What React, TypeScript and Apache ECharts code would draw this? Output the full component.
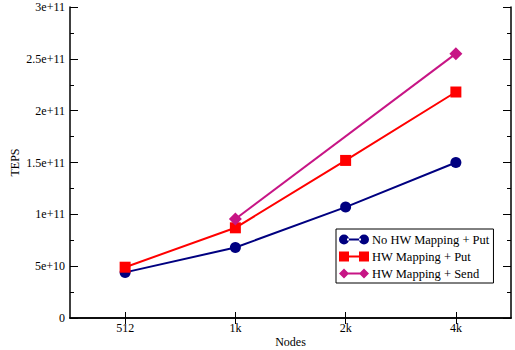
import React, { useEffect, useRef } from "react";
import * as echarts from "echarts";

const categories = ["512", "1k", "2k", "4k"];
const yTickLabels = ["0", "5e+10", "1e+11", "1.5e+11", "2e+11", "2.5e+11", "3e+11"];
const noHwPut = [4.4e10, 6.8e10, 1.07e11, 1.5e11];
const hwPut = [4.9e10, 8.7e10, 1.52e11, 2.18e11];
const hwSend = [null, 9.55e10, null, 2.55e11];
const seriesNames = ["No HW Mapping + Put", "HW Mapping + Put", "HW Mapping + Send"];

const FONT = "'Liberation Serif', 'Times New Roman', serif";

const circleIcon =
  "path://M0,5a5,5 0 1,0 10,0a5,5 0 1,0 -10,0Z M20,5a5,5 0 1,0 10,0a5,5 0 1,0 -10,0Z M8,4h14v2h-14Z";
const squareIcon = "path://M0,0h10v10h-10Z M20,0h10v10h-10Z M8,4h14v2h-14Z";
const diamondIcon =
  "path://M0,5L5,0L10,5L5,10Z M20,5L25,0L30,5L25,10Z M8,4h14v2h-14Z";

export default function App() {
  const ref = useRef<HTMLDivElement>(null);
  useEffect(() => {
    if (!ref.current) return;
    const chart = echarts.init(ref.current, undefined, { renderer: "svg" });
    const axisLine = { show: true, lineStyle: { color: "#000", width: 1.5 } };
    chart.setOption({
      animation: false,
      backgroundColor: "#fff",
      textStyle: { fontFamily: FONT },
      grid: { left: 70, right: 4, top: 7, bottom: 32, containLabel: false, outerBoundsMode: "none" },
      legend: {
        left: 336,
        top: 229,
        orient: "vertical",
        backgroundColor: "#fff",
        borderColor: "#000",
        borderWidth: 1,
        padding: [4, 4, 3, 3],
        itemGap: 4,
        itemWidth: 30,
        itemHeight: 10,
        textStyle: { fontFamily: FONT, fontSize: 12.5, color: "#000", padding: [0, 0, 0, -2] },
        data: [
          { name: seriesNames[0], icon: circleIcon },
          { name: seriesNames[1], icon: squareIcon },
          { name: seriesNames[2], icon: diamondIcon },
        ],
      },
      xAxis: [
        {
          type: "category",
          data: categories,
          position: "bottom",
          name: "Nodes",
          nameLocation: "middle",
          nameGap: 18,
          nameMoveOverlap: false,
          nameTextStyle: { fontFamily: FONT, fontSize: 12, color: "#000" },
          axisLine,
          axisTick: { show: true, inside: true, alignWithLabel: true, length: 6, lineStyle: { color: "#000", width: 1 } },
          axisLabel: { fontFamily: FONT, fontSize: 12, color: "#000", margin: 4 },
          splitLine: { show: false },
        },
        {
          type: "category",
          data: categories,
          position: "top",
          axisLine,
          axisTick: { show: true, inside: true, alignWithLabel: true, length: 6, lineStyle: { color: "#000", width: 1 } },
          axisLabel: { show: false },
          splitLine: { show: false },
        },
      ],
      yAxis: [
        {
          type: "value",
          min: 0,
          max: 3e11,
          interval: 5e10,
          position: "left",
          name: "TEPS",
          nameLocation: "middle",
          nameGap: 49,
          nameMoveOverlap: false,
          nameRotate: 90,
          nameTextStyle: { fontFamily: FONT, fontSize: 12, color: "#000" },
          axisLine,
          axisTick: { show: true, inside: true, length: 8, lineStyle: { color: "#000", width: 1 } },
          minorTick: { show: true, splitNumber: 2, length: 4, lineStyle: { color: "#000", width: 1 } },
          axisLabel: {
            fontFamily: FONT,
            fontSize: 12,
            color: "#000",
            margin: 5,
            formatter: (_v: number, i: number) => yTickLabels[i],
          },
          splitLine: { show: false },
          minorSplitLine: { show: false },
        },
        {
          type: "value",
          min: 0,
          max: 3e11,
          interval: 5e10,
          position: "right",
          axisLine,
          axisTick: { show: true, inside: true, length: 8, lineStyle: { color: "#000", width: 1 } },
          minorTick: { show: true, splitNumber: 2, length: 4, lineStyle: { color: "#000", width: 1 } },
          axisLabel: { show: false },
          splitLine: { show: false },
        },
      ],
      series: [
        {
          name: seriesNames[0],
          type: "line",
          data: noHwPut,
          color: "#000080",
          symbol: "circle",
          symbolSize: 11,
          lineStyle: { width: 2, color: "#000080" },
          itemStyle: { color: "#000080" },
        },
        {
          name: seriesNames[1],
          type: "line",
          data: hwPut,
          color: "#ff0000",
          symbol: "rect",
          symbolSize: 11,
          lineStyle: { width: 2, color: "#ff0000" },
          itemStyle: { color: "#ff0000" },
        },
        {
          name: seriesNames[2],
          type: "line",
          data: hwSend,
          connectNulls: true,
          color: "#c71585",
          symbol: "diamond",
          symbolSize: 13,
          lineStyle: { width: 2, color: "#c71585" },
          itemStyle: { color: "#c71585" },
        },
      ],
    });
    return () => chart.dispose();
  }, []);
  return <div ref={ref} style={{ width: 515, height: 350, position: "absolute", left: 0, top: 0 }} />;
}
